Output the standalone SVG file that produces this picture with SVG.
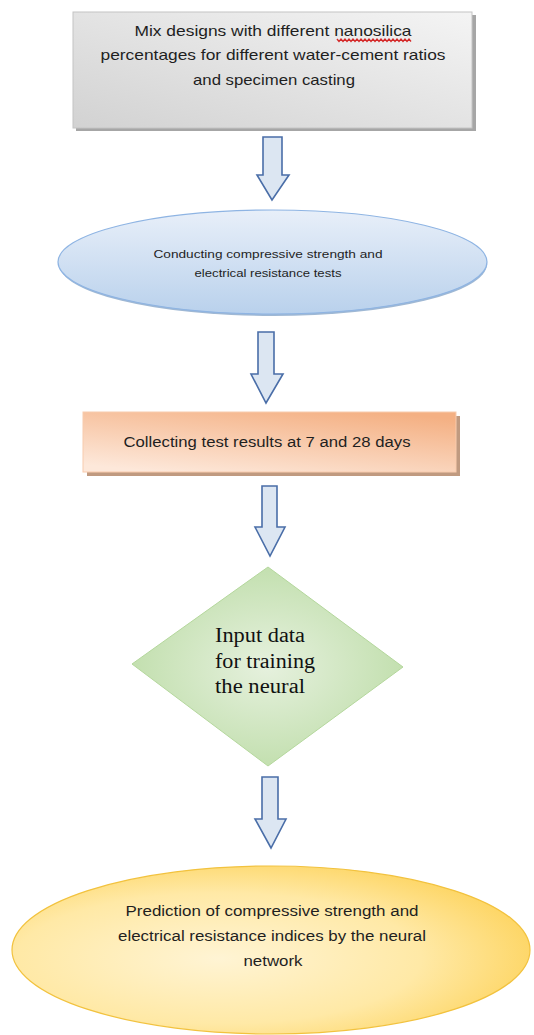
<svg xmlns="http://www.w3.org/2000/svg" width="534" height="1035" viewBox="0 0 534 1035">
<style>
.t{font-family:"Liberation Sans",Arial,sans-serif;fill:#1f1f1f;text-anchor:middle}
.s{font-family:"Liberation Serif","Times New Roman",serif;fill:#111}
.arrow{fill:#dce6f2;stroke:#4a6ea8;stroke-width:1.6;stroke-linejoin:miter}
</style>
<defs>
<linearGradient id="g1" x1="0" y1="1" x2="1" y2="0">
<stop offset="0" stop-color="#d2d2d2"/><stop offset="1" stop-color="#f4f4f4"/>
</linearGradient>
<linearGradient id="g2" x1="0" y1="0" x2="0" y2="1">
<stop offset="0" stop-color="#e8eff9"/><stop offset="1" stop-color="#b9d1ec"/>
</linearGradient>
<linearGradient id="g3" x1="0.2" y1="1" x2="0.8" y2="0">
<stop offset="0" stop-color="#fde8da"/><stop offset="1" stop-color="#f4b083"/>
</linearGradient>
<radialGradient id="g4" cx="0.5" cy="0.5" r="0.6">
<stop offset="0" stop-color="#e6f1de"/><stop offset="1" stop-color="#bcdca6"/>
</radialGradient>
<radialGradient id="g5" cx="0.4" cy="0.55" r="0.65">
<stop offset="0" stop-color="#fff4d4"/><stop offset="0.6" stop-color="#ffe9a6"/><stop offset="1" stop-color="#fdd35c"/>
</radialGradient>
</defs>

<g id="node1">
<rect x="76" y="15" width="400" height="116" fill="#a6a6a6"/>
<rect x="73" y="12" width="399" height="116" fill="url(#g1)" stroke="#c4c4c4" stroke-width="1"/>
<text class="t" x="273" y="36" font-size="15" textLength="277" lengthAdjust="spacingAndGlyphs">Mix designs with different nanosilica</text>
<path d="M337 39 l2 2.5 l2 -2.5 l2 2.5 l2 -2.5 l2 2.5 l2 -2.5 l2 2.5 l2 -2.5 l2 2.5 l2 -2.5 l2 2.5 l2 -2.5 l2 2.5 l2 -2.5 l2 2.5 l2 -2.5 l2 2.5 l2 -2.5 l2 2.5 l2 -2.5 l2 2.5 l2 -2.5 l2 2.5 l2 -2.5 l2 2.5 l2 -2.5 l2 2.5 l2 -2.5 l2 2.5 l2 -2.5 l2 2.5 l2 -2.5 l2 2.5 l2 -2.5 l2 2.5 l2 -2.5 l2 2.5" fill="none" stroke="#d42a2a" stroke-width="1.4"/>
<text class="t" x="273" y="60" font-size="15" textLength="345" lengthAdjust="spacingAndGlyphs">percentages  for different water-cement  ratios</text>
<text class="t" x="274" y="85" font-size="15" textLength="162" lengthAdjust="spacingAndGlyphs">and specimen  casting</text>
</g>

<g id="node2">
<ellipse cx="273" cy="264" rx="214" ry="52" fill="#9fb8d4"/>
<ellipse cx="272.5" cy="262" rx="214.5" ry="52" fill="url(#g2)" stroke="#8eb4e3" stroke-width="1.2"/>
<text class="t" x="268" y="258" font-size="11" textLength="229" lengthAdjust="spacingAndGlyphs">Conducting compressive  strength  and</text>
<text class="t" x="268" y="277" font-size="11" textLength="147" lengthAdjust="spacingAndGlyphs">electrical  resistance  tests</text>
</g>

<g id="node3">
<rect x="87" y="416" width="373" height="60" fill="#c09a80"/>
<rect x="83" y="412" width="373" height="60" fill="url(#g3)" stroke="#f8cbad" stroke-width="1"/>
<text class="t" x="267" y="447" font-size="14" textLength="287" lengthAdjust="spacingAndGlyphs">Collecting test results at 7 and 28 days</text>
</g>

<g id="node4">
<polygon points="268,567 403,667 268,766 132,664" fill="url(#g4)" stroke="#b4d79c" stroke-width="1"/>
<text class="s" x="215" y="642" font-size="20" textLength="90" lengthAdjust="spacingAndGlyphs">Input data</text>
<text class="s" x="215" y="668" font-size="20" textLength="100" lengthAdjust="spacingAndGlyphs">for training</text>
<text class="s" x="215" y="693" font-size="20" textLength="90" lengthAdjust="spacingAndGlyphs">the neural</text>
</g>

<g id="node5">
<ellipse cx="271" cy="950" rx="259" ry="84" fill="url(#g5)" stroke="#f2c23e" stroke-width="1.2"/>
<text class="t" x="272" y="916" font-size="14" textLength="293" lengthAdjust="spacingAndGlyphs">Prediction  of compressive strength  and</text>
<text class="t" x="272" y="941" font-size="14" textLength="308" lengthAdjust="spacingAndGlyphs">electrical  resistance  indices by the neural</text>
<text class="t" x="273" y="966" font-size="14" textLength="59" lengthAdjust="spacingAndGlyphs">network</text>
</g>

<g id="connectors">
<polygon class="arrow" points="263,137 282,137 282,175 289,175 272,200 257,175 263,175"/>
<polygon class="arrow" points="258,332 274,332 274,374 283,374 266,403 251,374 258,374"/>
<polygon class="arrow" points="262,486 277,486 277,527 285,527 270,556 255,527 262,527"/>
<polygon class="arrow" points="262,777 278,777 278,819 286,819 271,848 255,819 262,819"/>
</g>
</svg>
